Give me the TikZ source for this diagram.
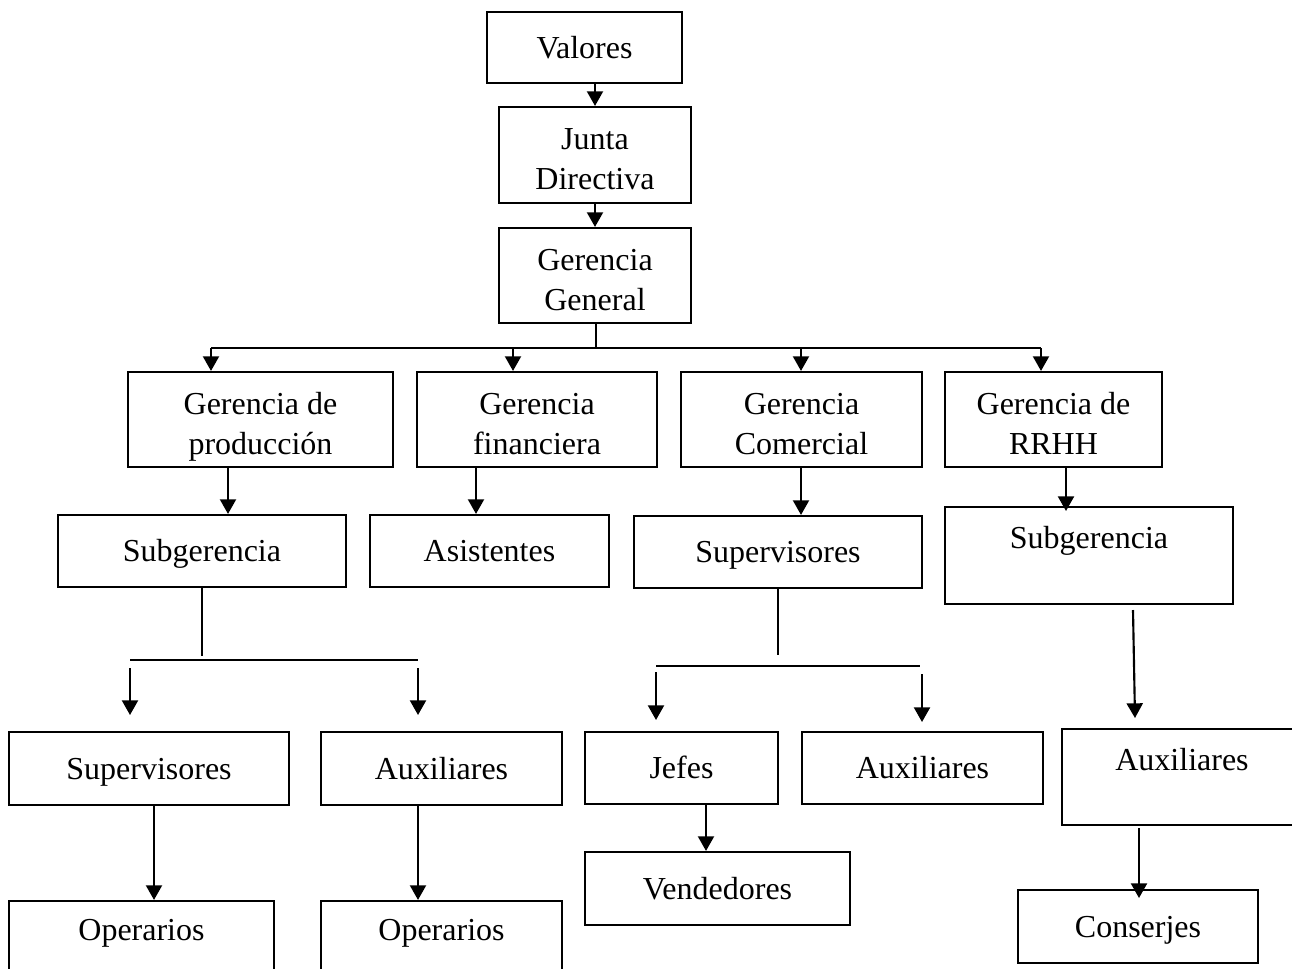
\documentclass[tikz,border=0pt]{standalone}
\usepackage{fontspec}
\setmainfont{Liberation Serif}
\usetikzlibrary{arrows.meta}
\tikzset{
  bx/.style={draw, line width=1.6pt, inner sep=0pt, align=center,
    font=\fontsize{24}{30}\selectfont, text height=16pt, text depth=0pt},
  two/.style={text height=52pt, text depth=0pt},
  up/.style={text depth=26pt},
  opup/.style={text depth=16pt},
  ln/.style={line width=1.6pt},
  arr/.style={line width=1.6pt, -{Triangle[width=12pt,length=11pt]}}
}
% \mybox[options]{name}{x1}{y1}{x2}{y2}{text}
\newcommand\mybox[7][]{%
  \node[bx,minimum width={(#5-#3)*0.75pt},minimum height={(#6-#4)*0.75pt},#1]
    (#2) at ({(#3+#5)/2},{(#4+#6)/2}) {#7};}
\begin{document}
\begin{tikzpicture}[x=0.75pt,y=-0.75pt]
\useasboundingbox (0,0) rectangle (1292,968);
\clip (0,0) rectangle (1292,968);
% boxes
\mybox{val}{487}{12}{682}{83}{Valores}
\mybox[two]{junta}{499}{107}{691}{203}{Junta\\Directiva}
\mybox[two]{gg}{499}{228}{691}{323}{Gerencia\\General}
\mybox[two]{gp}{128}{372}{393}{467}{Gerencia de\\producción}
\mybox[two]{gf}{417}{372}{657}{467}{Gerencia\\financiera}
\mybox[two]{gc}{681}{372}{922}{467}{Gerencia\\Comercial}
\mybox[two]{gr}{945}{372}{1162}{467}{Gerencia de\\RRHH}
\mybox{subA}{58}{515}{346}{587}{Subgerencia}
\mybox{asis}{370}{515}{609}{587}{Asistentes}
\mybox{supB}{634}{516}{922}{588}{Supervisores}
\mybox[up]{subC}{945}{507}{1233}{604}{Subgerencia}
\mybox{supA}{9}{732}{289}{805}{Supervisores}
\mybox{auxA}{321}{732}{562}{805}{Auxiliares}
\mybox{jef}{585}{732}{778}{804}{Jefes}
\mybox{auxB}{802}{732}{1043}{804}{Auxiliares}
\mybox[up]{auxC}{1062}{729}{1302}{825}{Auxiliares}
\mybox[opup]{opA}{9}{901}{274}{980}{Operarios}
\mybox[opup]{opB}{321}{901}{562}{980}{Operarios}
\mybox{ven}{585}{852}{850}{925}{Vendedores}
\mybox{con}{1018}{890}{1258}{963}{Conserjes}
% top chain
\draw[arr] (val.south -| junta.north) -- (junta.north);
\draw[arr] (junta) -- (gg);
% bus to the four managements
\coordinate (b0) at (596,348);
\coordinate (b1) at (211,348);
\coordinate (b2) at (513,348);
\coordinate (b3) at (801,348);
\coordinate (b4) at (1041,348);
\draw[ln] (gg.south -| b0) -- (b0);
\draw[ln, line cap=square] (b1) -- (b4);
\foreach \b/\n in {b1/gp,b2/gf,b3/gc,b4/gr}
  \draw[arr] (\b) -- (\b |- \n.north);
% managements to the next level
\coordinate (pA) at (228,490);
\coordinate (pB) at (476,490);
\coordinate (pC) at (801,490);
\coordinate (pD) at (1066,490);
\coordinate (pDe) at (1066,511);
\draw[arr] (gp.south -| pA) -- (subA.north -| pA);
\draw[arr] (gf.south -| pB) -- (asis.north -| pB);
\draw[arr] (gc.south -| pC) -- (supB.north -| pC);
\draw[arr] (gr.south -| pD) -- (pDe);
% left tree
\coordinate (t1) at (202,656);
\coordinate (h1) at (130,660);
\coordinate (h2) at (418,660);
\coordinate (a1s) at (130,668);
\coordinate (a1e) at (130,715);
\coordinate (a2s) at (418,668);
\coordinate (a2e) at (418,715);
\draw[ln] (subA.south -| t1) -- (t1);
\draw[ln] (h1) -- (h2);
\draw[arr] (a1s) -- (a1e);
\draw[arr] (a2s) -- (a2e);
\coordinate (k1) at (154,850);
\coordinate (k2) at (418,850);
\draw[arr] (supA.south -| k1) -- (opA.north -| k1);
\draw[arr] (auxA.south -| k2) -- (opB.north -| k2);
% middle tree
\coordinate (t2) at (778,655);
\coordinate (h3) at (656,666);
\coordinate (h4) at (920,666);
\coordinate (a3s) at (656,672);
\coordinate (a3e) at (656,720);
\coordinate (a4s) at (922,674);
\coordinate (a4e) at (922,722);
\draw[ln] (supB.south -| t2) -- (t2);
\draw[ln] (h3) -- (h4);
\draw[arr] (a3s) -- (a3e);
\draw[arr] (a4s) -- (a4e);
\coordinate (k3) at (706,830);
\draw[arr] (jef.south -| k3) -- (ven.north -| k3);
% right tree
\coordinate (r1s) at (1133,610);
\coordinate (r1e) at (1135,718);
\coordinate (r2s) at (1139,828);
\coordinate (r2e) at (1139,898);
\draw[arr] (r1s) -- (r1e);
\draw[arr] (r2s) -- (r2e);
\end{tikzpicture}
\end{document}
